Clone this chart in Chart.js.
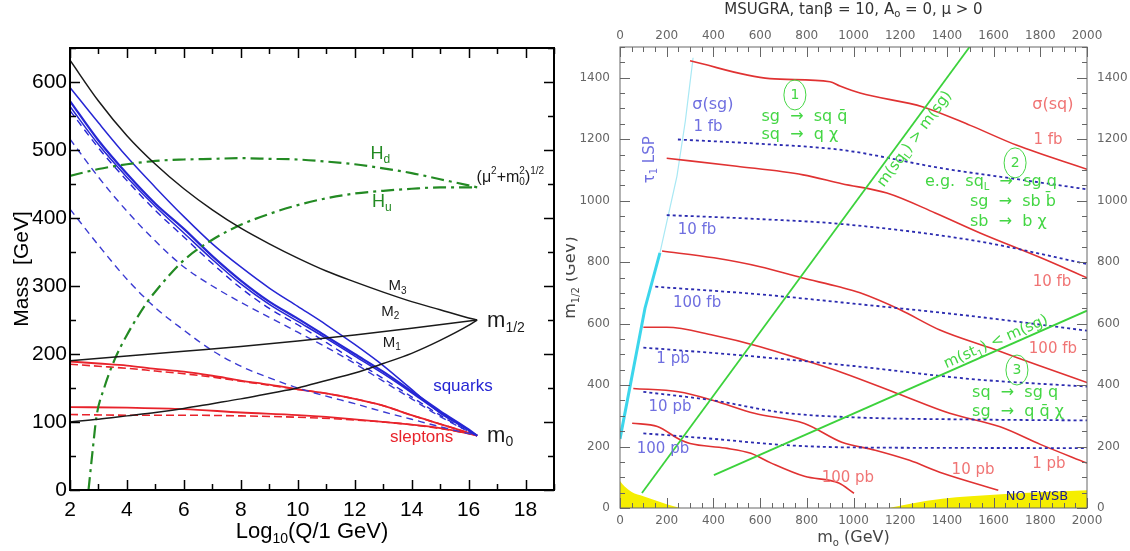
<!DOCTYPE html>
<html>
<head>
<meta charset="utf-8">
<script src="https://cdn.jsdelivr.net/npm/chart.js@4.4.1/dist/chart.umd.min.js"></script>
<style>
  body { margin: 0; background: #fff; width: 1130px; height: 551px; overflow: hidden; position: relative; }
  canvas { position: absolute; top: 0; }
  #left { left: 0; }
  #right { left: 566px; }
</style>
</head>
<body>
<canvas id="left" width="566" height="551"></canvas>
<canvas id="right" width="564" height="551"></canvas>
<script>
// ---- left panel: running masses vs log10(Q) ----
const qTicks = [2, 4, 6, 8, 10, 12, 14, 16, 18];
const massTicks = [0, 100, 200, 300, 400, 500, 600];

const gluinoM3 = [[2,632],[3,572],[4,521],[5,479],[6,443],[7,412],[8,385],[9,362],[10,341],[11,322],[12,306],[13,291],[14,277],[15,265],[16,253],[16.3,250]];
const winoM2 = [[2,190],[4,197],[6,204],[8,211],[10,219],[12,228],[14,238],[16.3,250]];
const binoM1 = [[2,100],[3,104],[4,109],[5,114],[6,120],[7,127],[8,134],[9,142],[10,150],[11,161],[12,172],[13,186],[14,201],[15,220],[16,242],[16.3,250]];
const higgsHd = [[2,462],[3,472],[4,479],[5,484],[6,486],[7,487],[8,488],[9,487],[10,486],[11,483],[12,479],[13,473],[14,466],[15,457],[16,448],[16.3,445]];
const higgsHu = [[2.65,0],[2.8,60],[2.93,108],[3.2,150],[3.57,192],[4,228],[4.69,275],[5,292],[6,338],[7,368],[8,390],[9,406],[10,419],[11,429],[12,436],[13,440],[14,443],[15,445],[16.3,445]];

const squarkA = [[2,592],[3,540],[4,490],[5,445],[6,402],[7,362],[8,328],[9,297],[10,270],[11,243],[12,214],[13,183],[14,148],[15,113],[16,88],[16.3,80]];
const squarkB = [[2,572],[3,514],[4,465],[5,421],[6,384],[7,344],[8,308],[9,277],[10,252],[11,226],[12,200],[13,174],[14,145],[15,116],[16,89],[16.3,80]];
const squarkC = [[2,564],[3,508],[4,460],[5,417],[6,378],[7,339],[8,303],[9,273],[10,248],[11,223],[12,197],[13,171],[14,143],[15,114],[16,88],[16.3,80]];
const squarkDashA = [[2,558],[3,503],[4,455],[5,411],[6,372],[7,333],[8,297],[9,267],[10,243],[11,217],[12,190],[13,164],[14,137],[15,110],[16,86],[16.3,80]];
const squarkDashB = [[2,516],[3,460],[4,410],[5,366],[6,328],[7,300],[8,276],[9,254],[10,232],[11,210],[12,186],[13,160],[14,134],[15,108],[16,86],[16.3,80]];
const squarkDashC = [[2,413],[3,360],[4,310],[5,268],[6,235],[7,205],[8,182],[9,165],[10,150],[11,138],[12,127],[13,115],[14,104],[15,93],[16,83],[16.3,80]];

const sleptonA = [[2,189],[3,186],[4,183],[5,178],[6,174],[7,168],[8,161],[9,155],[10,148],[11,142],[12,134],[13,124],[14,110],[15,97],[16,84],[16.3,80]];
const sleptonDashA = [[2,185],[3,182],[4,179],[5,175],[6,171],[7,166],[8,160],[9,154],[10,148],[11,142],[12,134],[13,124],[14,110],[15,97],[16,84],[16.3,80]];
const sleptonB = [[2,122],[4,121],[6,119],[8,114],[10,110],[12,104],[14,96],[15,91],[16,83],[16.3,80]];
const sleptonDashB = [[2,111],[4,110],[6,110],[8,109],[10,107],[12,103],[14,96],[16,83],[16.3,80]];

// ---- right panel: m0 - m1/2 plane ----
const m0Ticks = [0, 200, 400, 600, 800, 1000, 1200, 1400, 1600, 1800, 2000];
const mHalfTicks = [0, 200, 400, 600, 800, 1000, 1200, 1400];

const sqXsec1fb = [[300,1455],[642,1397],[899,1387],[942,1373],[1028,1350],[1298,1305],[1500,1245],[1700,1180],[2000,1102]];
const sqXsec10fb = [[200,1138],[500,1112],[784,1084],[950,1055],[1143,1025],[1350,960],[1542,895],[1800,815],[2000,749]];
const sqXsec100fb = [[180,836],[402,814],[600,785],[778,749],[942,719],[1028,700],[1200,645],[1370,579],[1600,517],[1800,462],[2000,408]];
const sqXsec1pb = [[100,588],[200,588],[400,562],[600,525],[800,478],[950,441],[1200,369],[1412,308],[1628,264],[1800,207],[2000,146]];
const sqXsec10pb = [[57,389],[250,378],[400,350],[575,308],[790,275],[950,214],[1093,188],[1240,155],[1382,113],[1620,58]];
const sqXsec100pb = [[52,276],[160,265],[258,222],[300,210],[450,195],[560,178],[648,146],[790,103],[937,81],[1002,48]];

const sgXsec1fb = [[248,1199],[600,1185],[950,1165],[1382,1105],[1700,1070],[2000,1037]];
const sgXsec10fb = [[200,953],[600,940],[950,924],[1525,869],[2000,794]];
const sgXsec100fb = [[151,720],[600,695],[1000,665],[1500,625],[2000,577]];
const sgXsec1pb = [[100,522],[500,498],[1000,462],[1500,420],[2000,395]];
const sgXsec10pb = [[100,378],[400,350],[700,310],[1000,295],[1500,288],[2000,285]];
const sgXsec100pb = [[100,243],[400,225],[700,205],[1000,197],[2000,195]];

const tauLspLow = [[0,225],[107,650],[171,830]];
const tauLspHigh = [[171,830],[244,1080],[280,1260],[313,1465]];
const sqLeqSg = [[94,49],[1497,1500]];
const st1EqSg = [[402,107],[2000,642]];
const noEwsbLeft = [[0,88],[20,70],[50,52],[100,38],[150,25],[200,12],[260,0]];
const noEwsbRight = [[1150,0],[1250,15],[1380,30],[1500,38],[1700,48],[2000,58]];

const LF = '"Liberation Sans", Arial, sans-serif';
const RF = '"DejaVu Sans", sans-serif';

const toXY = pts => pts.map(([x, y]) => ({ x, y }));

function line(pts, color, width, dash, extra) {
  return Object.assign({
    data: toXY(pts), borderColor: color, borderWidth: width, borderDash: dash || [],
    pointRadius: 0, showLine: true, fill: false, cubicInterpolationMode: 'monotone'
  }, extra || {});
}

// text with _{sub} and ^{sup}; a sub right after a sup is stacked under it
function drawRich(ctx, str, x, y, size, family, color, align) {
  const runs = [];
  const re = /([_^])\{([^}]*)\}/g;
  let last = 0, m;
  while ((m = re.exec(str))) {
    if (m.index > last) runs.push({ t: str.slice(last, m.index), k: 'n' });
    runs.push({ t: m[2], k: m[1] === '_' ? 'sub' : 'sup' });
    last = re.lastIndex;
  }
  if (last < str.length) runs.push({ t: str.slice(last), k: 'n' });

  const small = Math.round(size * 0.65);
  let w = 0, prev = null, prevW = 0;
  for (const r of runs) {
    ctx.font = `${r.k === 'n' ? size : small}px ${family}`;
    r.w = ctx.measureText(r.t).width;
    if (r.k === 'sub' && prev === 'sup') {
      r.x = w - prevW;
      w = r.x + Math.max(r.w, prevW);
    } else {
      r.x = w;
      w += r.w;
    }
    prev = r.k; prevW = r.w;
  }
  const x0 = align === 'center' ? x - w / 2 : align === 'right' ? x - w : x;
  ctx.fillStyle = color;
  ctx.textBaseline = 'middle';
  ctx.textAlign = 'left';
  for (const r of runs) {
    ctx.font = `${r.k === 'n' ? size : small}px ${family}`;
    const dy = r.k === 'sub' ? size * 0.32 : r.k === 'sup' ? -size * 0.38 : 0;
    ctx.fillText(r.t, x0 + r.x, y + dy);
  }
}

// inward ticks on all four sides + frame
function makeFrame(o) {
  return {
    id: 'frame',
    afterDatasetsDraw(chart) {
      const { ctx, chartArea: a, scales: { x, y } } = chart;
      ctx.save();
      ctx.strokeStyle = o.color;
      ctx.lineWidth = o.tickWidth;
      ctx.beginPath();
      for (let v = x.min; v <= x.max + 1e-6; v += o.xStep) {
        const len = o.xMajor.includes(Math.round(v * 100) / 100) ? o.major : o.minor;
        const px = Math.round(x.getPixelForValue(v)) + 0.5;
        ctx.moveTo(px, a.bottom); ctx.lineTo(px, a.bottom - len);
        ctx.moveTo(px, a.top); ctx.lineTo(px, a.top + len);
      }
      for (let v = y.min; v <= y.max + 1e-6; v += o.yStep) {
        const len = o.yMajor.includes(v) ? o.major : o.minor;
        const py = Math.round(y.getPixelForValue(v)) + 0.5;
        ctx.moveTo(a.left, py); ctx.lineTo(a.left + len, py);
        ctx.moveTo(a.right, py); ctx.lineTo(a.right - len, py);
      }
      ctx.stroke();
      ctx.lineWidth = o.frameWidth;
      ctx.strokeRect(a.left, a.top, a.right - a.left, a.bottom - a.top);
      ctx.restore();
    }
  };
}

// labels in data coordinates, plus titles placed around the plot area
function makeNotes(notes, family, titles) {
  return {
    id: 'notes',
    afterDraw(chart) {
      const { ctx, chartArea: a, scales: { x, y } } = chart;
      ctx.save();
      for (const n of notes) {
        const px = x.getPixelForValue(n.x), py = y.getPixelForValue(n.y);
        if (n.circle) {
          ctx.strokeStyle = n.color; ctx.lineWidth = 1;
          ctx.beginPath(); ctx.ellipse(px, py, 11, 15, 0, 0, Math.PI * 2); ctx.stroke();
        }
        ctx.save();
        ctx.translate(px, py);
        if (n.rot) ctx.rotate(n.rot * Math.PI / 180);
        drawRich(ctx, n.text, 0, 0, n.size, family, n.color, n.align || 'center');
        ctx.restore();
      }
      titles(ctx, a);
      ctx.restore();
    }
  };
}

const plain = v => String(v);

function axisPair(min, max, ticks, labelOpts, sizeA, sizeB, horizontal) {
  const build = s => { s.ticks = ticks.map(v => ({ value: v })); };
  const base = { type: 'linear', min, max, grid: { display: false, drawTicks: false }, border: { display: false } };
  const first = Object.assign({}, base, {
    position: horizontal ? 'bottom' : 'left', axis: horizontal ? 'x' : 'y',
    ticks: Object.assign({ maxRotation: 0, autoSkip: false, callback: plain }, labelOpts.a),
    afterBuildTicks: build,
    afterFit: s => { if (horizontal) s.height = sizeA; else s.width = sizeA; }
  });
  const second = Object.assign({}, base, {
    position: horizontal ? 'top' : 'right', axis: horizontal ? 'x' : 'y',
    ticks: Object.assign({ maxRotation: 0, autoSkip: false, callback: plain }, labelOpts.b),
    afterBuildTicks: build,
    afterFit: s => { if (horizontal) s.height = sizeB; else s.width = sizeB; }
  });
  return [first, second];
}

// ================= LEFT =================
const blue = '#2626d4', red = '#e8232b', dgreen = '#238a23', black = '#1a1a1a';
const dashDot = [13, 5, 3, 5];

const leftNotes = [
  { x: 12.9, y: 494, text: 'H_{d}', color: dgreen, size: 18 },
  { x: 12.95, y: 424, text: 'H_{u}', color: dgreen, size: 18 },
  { x: 16.28, y: 460, text: '(\u03bc^{2}+m^{2}_{0})^{1/2}', color: black, size: 16, align: 'left' },
  { x: 13.5, y: 300, text: 'M_{3}', color: black, size: 15 },
  { x: 13.25, y: 262, text: 'M_{2}', color: black, size: 15 },
  { x: 13.3, y: 217, text: 'M_{1}', color: black, size: 15 },
  { x: 16.65, y: 249, text: 'm_{1/2}', color: black, size: 22, align: 'left' },
  { x: 16.65, y: 80, text: 'm_{0}', color: black, size: 22, align: 'left' },
  { x: 15.8, y: 152, text: 'squarks', color: blue, size: 17 },
  { x: 14.35, y: 78, text: 'sleptons', color: red, size: 17 }
];

const [lx, lx2] = axisPair(2, 19, qTicks,
  { a: { font: { family: LF, size: 21 }, color: '#000', padding: 8 }, b: { display: false } }, 61, 48, true);
const [ly, ly2] = axisPair(0, 650, massTicks,
  { a: { font: { family: LF, size: 21 }, color: '#000', padding: 3 }, b: { display: false } }, 70, 12, false);

new Chart(document.getElementById('left'), {
  type: 'scatter',
  data: {
    datasets: [
      line(gluinoM3, black, 1.5),
      line(winoM2, black, 1.5),
      line(binoM1, black, 1.5),
      line(higgsHd, dgreen, 2.2, dashDot),
      line(higgsHu, dgreen, 2.2, dashDot),
      line(squarkA, blue, 1.5),
      line(squarkB, blue, 2.2),
      line(squarkC, blue, 1.5),
      line(squarkDashA, blue, 1.4, [7, 5]),
      line(squarkDashB, '#3a3ad2', 1.4, [7, 5]),
      line(squarkDashC, '#3a3ad2', 1.4, [7, 5]),
      line(sleptonA, red, 1.8),
      line(sleptonDashA, red, 1.6, [8, 4]),
      line(sleptonB, red, 1.8),
      line(sleptonDashB, red, 1.6, [8, 4])
    ]
  },
  options: {
    responsive: false, animation: false,
    layout: { padding: 0 },
    plugins: { legend: { display: false }, tooltip: { enabled: false } },
    scales: { x: lx, x2: lx2, y: ly, y2: ly2 }
  },
  plugins: [
    makeFrame({ color: '#000', tickWidth: 1.5, frameWidth: 2, major: 10, minor: 6, xStep: 1, yStep: 50, xMajor: qTicks, yMajor: massTicks }),
    makeNotes(leftNotes, LF, (ctx, a) => {
      drawRich(ctx, 'Log_{10}(Q/1 GeV)', (a.left + a.right) / 2, 532, 22, LF, '#000', 'center');
      ctx.save();
      ctx.translate(22, (a.top + a.bottom) / 2);
      ctx.rotate(-Math.PI / 2);
      drawRich(ctx, 'Mass  [GeV]', 0, 0, 21, LF, '#000', 'center');
      ctx.restore();
    })
  ]
});

// ================= RIGHT =================
const rRed = '#e03232', rBlue = '#2b2bb0', rGreen = '#3cd23c';
const lblBlue = '#6f6fe0', lblRed = '#f07474', lblGreen = '#44d644';
const dots = [3, 3];

const rightNotes = [
  { x: 398, y: 1311, text: '\u03c3(sg)', color: lblBlue, size: 16 },
  { x: 377, y: 1240, text: '1 fb', color: lblBlue, size: 15 },
  { x: 128, y: 1133, text: '\u03c4_{1} LSP', color: lblBlue, size: 15, rot: -90 },
  { x: 330, y: 905, text: '10 fb', color: lblBlue, size: 15 },
  { x: 330, y: 667, text: '100 fb', color: lblBlue, size: 15 },
  { x: 227, y: 485, text: '1 pb', color: lblBlue, size: 15 },
  { x: 214, y: 329, text: '10 pb', color: lblBlue, size: 15 },
  { x: 184, y: 192, text: '100 pb', color: lblBlue, size: 15 },
  { x: 1854, y: 1311, text: '\u03c3(sq)', color: lblRed, size: 16 },
  { x: 1833, y: 1197, text: '1 fb', color: lblRed, size: 15 },
  { x: 1850, y: 735, text: '10 fb', color: lblRed, size: 15 },
  { x: 1854, y: 517, text: '100 fb', color: lblRed, size: 15 },
  { x: 1837, y: 143, text: '1 pb', color: lblRed, size: 15 },
  { x: 1512, y: 124, text: '10 pb', color: lblRed, size: 15 },
  { x: 976, y: 98, text: '100 pb', color: lblRed, size: 15 },
  { x: 1786, y: 36, text: 'NO EWSB', color: '#1c1c90', size: 13 },
  { x: 749, y: 1344, text: '1', color: lblGreen, size: 14, circle: true },
  { x: 606, y: 1272, text: 'sg  \u2192  sq q\u0304', color: lblGreen, size: 16, align: 'left' },
  { x: 606, y: 1214, text: 'sq  \u2192  q \u03c7', color: lblGreen, size: 16, align: 'left' },
  { x: 1692, y: 1123, text: '2', color: lblGreen, size: 14, circle: true },
  { x: 1306, y: 1061, text: 'e.g.  sq_{L}  \u2192  sg q', color: lblGreen, size: 16, align: 'left' },
  { x: 1499, y: 996, text: 'sg  \u2192  sb b\u0304', color: lblGreen, size: 16, align: 'left' },
  { x: 1499, y: 931, text: 'sb  \u2192  b \u03c7', color: lblGreen, size: 16, align: 'left' },
  { x: 1700, y: 449, text: '3', color: lblGreen, size: 14, circle: true },
  { x: 1508, y: 374, text: 'sq  \u2192  sg q', color: lblGreen, size: 16, align: 'left' },
  { x: 1508, y: 312, text: 'sg  \u2192  q q\u0304 \u03c7', color: lblGreen, size: 16, align: 'left' },
  { x: 1262, y: 1200, text: 'm(sq_{L}) > m(sg)', color: lblGreen, size: 15, rot: -53.6 },
  { x: 1610, y: 540, text: 'm(st_{1}) < m(sg)', color: lblGreen, size: 15, rot: -23.8 }
];

const tickFont = { family: RF, size: 12 };
const [rx, rx2] = axisPair(0, 2000, m0Ticks,
  { a: { font: tickFont, color: '#666', padding: 6 }, b: { font: tickFont, color: '#666', padding: 4 } }, 43, 47, true);
const [ry, ry2] = axisPair(0, 1500, mHalfTicks,
  { a: { font: tickFont, color: '#666', padding: 10 }, b: { font: tickFont, color: '#666', padding: 10 } }, 54, 43, false);

const straight = { cubicInterpolationMode: 'default', tension: 0 };

new Chart(document.getElementById('right'), {
  type: 'scatter',
  data: {
    datasets: [
      line(sqLeqSg, rGreen, 1.8, [], straight),
      line(st1EqSg, rGreen, 1.8, [], straight),
      line(sgXsec1fb, rBlue, 1.8, dots),
      line(sgXsec10fb, rBlue, 1.8, dots),
      line(sgXsec100fb, rBlue, 1.8, dots),
      line(sgXsec1pb, rBlue, 1.8, dots),
      line(sgXsec10pb, rBlue, 1.8, dots),
      line(sgXsec100pb, rBlue, 1.8, dots),
      line(sqXsec1fb, rRed, 1.6),
      line(sqXsec10fb, rRed, 1.6),
      line(sqXsec100fb, rRed, 1.6),
      line(sqXsec1pb, rRed, 1.6),
      line(sqXsec10pb, rRed, 1.6),
      line(sqXsec100pb, rRed, 1.6),
      line(tauLspLow, '#3cd6ec', 3, [], straight),
      line(tauLspHigh, '#a8e8f4', 1.2, [], straight),
      line(noEwsbLeft, '#f5ee00', 0, [], { fill: { value: 0 }, backgroundColor: '#f5ee00' }),
      line(noEwsbRight, '#f5ee00', 0, [], { fill: { value: 0 }, backgroundColor: '#f5ee00' })
    ]
  },
  options: {
    responsive: false, animation: false,
    layout: { padding: 0 },
    plugins: { legend: { display: false }, tooltip: { enabled: false } },
    scales: { x: rx, x2: rx2, y: ry, y2: ry2 }
  },
  plugins: [
    makeFrame({ color: '#666', tickWidth: 1, frameWidth: 1, major: 10, minor: 5, xStep: 50, yStep: 50, xMajor: m0Ticks, yMajor: mHalfTicks }),
    makeNotes(rightNotes, RF, (ctx, a) => {
      drawRich(ctx, 'MSUGRA, tan\u03b2 = 10, A_{o} = 0, \u03bc > 0', (a.left + a.right) / 2, 10, 15, RF, '#333', 'center');
      drawRich(ctx, 'm_{o} (GeV)', (a.left + a.right) / 2, 538, 16, RF, '#444', 'center');
      ctx.save();
      ctx.translate(5, (a.top + a.bottom) / 2);
      ctx.rotate(-Math.PI / 2);
      drawRich(ctx, 'm_{1/2} (GeV)', 0, 0, 16, RF, '#444', 'center');
      ctx.restore();
    })
  ]
});
</script>
</body>
</html>
